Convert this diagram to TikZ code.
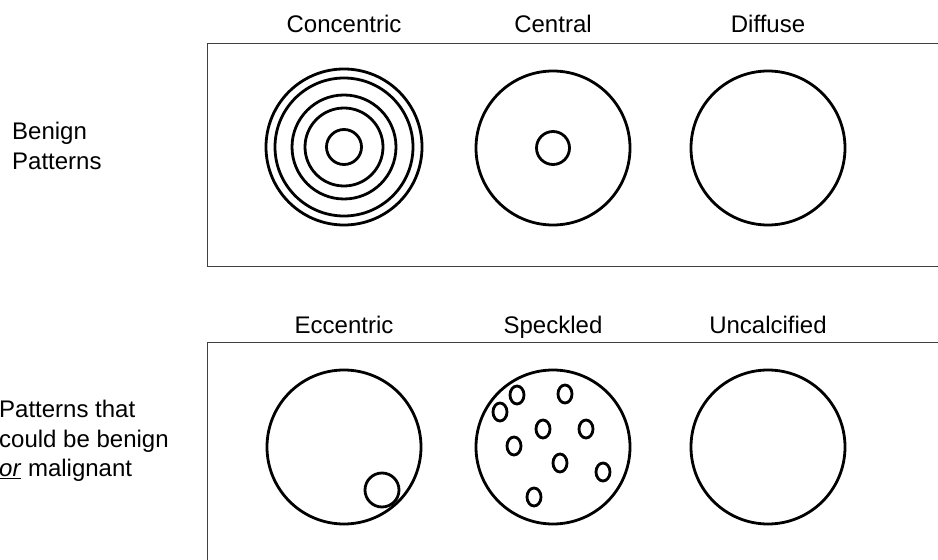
\documentclass[tikz,border=0pt]{standalone}
\usepackage{fontspec}
\setmainfont{Liberation Sans}
\usetikzlibrary{positioning}

\begin{document}
\begin{tikzpicture}[
            x=1bp, y=-1bp,
            ring/.style={draw, line width=2.8bp},
            panel/.style={draw=black!75, line width=1.4bp},
            title/.style={font=\fontsize{24bp}{29bp}\selectfont, inner sep=0pt, anchor=base},
            side/.style={font=\fontsize{24bp}{29.5bp}\selectfont, align=left, anchor=west, inner sep=0pt}
        ]
        \useasboundingbox (0,0) rectangle (938,560);
        \clip (0,0) rectangle (938,560);

        % panels
        \draw[panel] (945,43.5) -| (207.5,266.5) -- (945,266.5);
        \draw[panel] (945,342.5) -| (207.5,570);

        % row labels
        \node[side] (benign) at (12,146) {Benign\\Patterns};
        \node[side] (either) at (-1,441) {Patterns that\\could be benign\\\underline{\textit{or}} malignant};

        % centres of the discs
        \coordinate (conc) at (344,147);
        \coordinate (cent) at (553,148);
        \coordinate (diff) at (768,148);
        \coordinate (ecc) at (344,447);
        \coordinate (spek) at (553,447);
        \coordinate (unc) at (768,447);

        \node[title] (concT) at (344,33) {Concentric};
        \node[title] (centT) at (553,33) {Central};
        \node[title] (diffT) at (768,33) {Diffuse};
        \node[title] (eccT) at (344,334) {Eccentric};
        \node[title] (spekT) at (553,334) {Speckled};
        \node[title] (uncT) at (768,334) {Uncalcified};

        % benign row
        \foreach \r in {78,69,52,39,17.5}
            \draw[ring] (conc) circle[radius=\r];
        \draw[ring] (cent) circle[radius=77];
        \draw[ring] (cent) circle[radius=16.5];
        \draw[ring] (diff) circle[radius=77];

        % benign or malignant row
        \draw[ring] (ecc) circle[radius=77];
        \draw[ring] (382,490) circle[radius=17];
        \draw[ring] (spek) circle[radius=77];
        \foreach \px/\py in {517/395, 565/394, 500/412, 543/429, 586/429,
                             514/446, 560/463, 603/472, 534/497}
            \draw[ring] (\px,\py) ellipse[x radius=7, y radius=9];
        \draw[ring] (unc) circle[radius=77];
    \end{tikzpicture}
\end{document}
